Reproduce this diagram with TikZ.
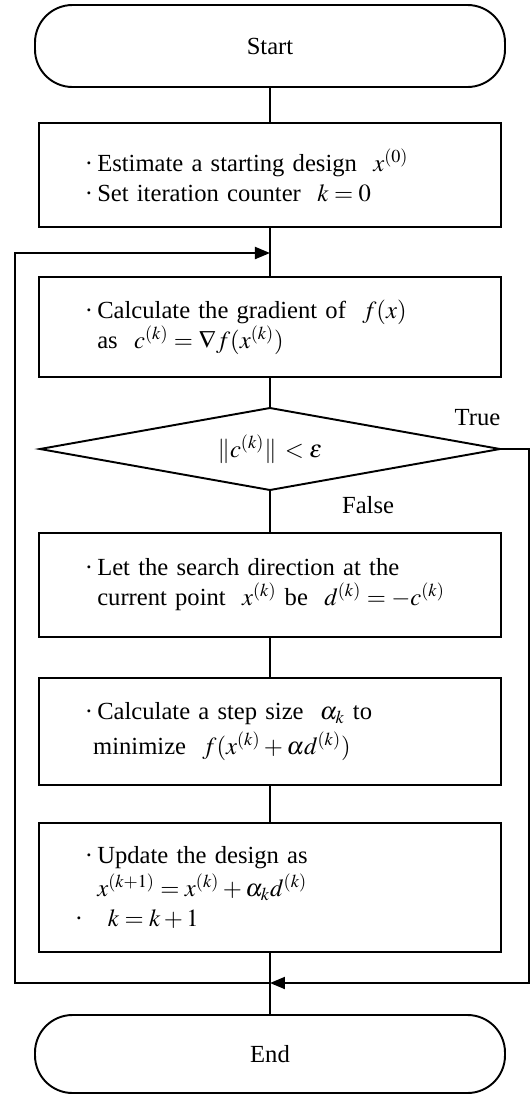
\documentclass[tikz,border=0pt]{standalone}
\usepackage{mathptmx}
\usepackage{fontspec}
\setmainfont{Liberation Serif}
\usepackage{tikz}
\usetikzlibrary{arrows.meta, positioning, shapes.geometric, calc}
\newcommand{\boxfont}{\fontsize{14}{17}\selectfont\spaceskip=0.45em plus 0.1em\relax}
\newcommand{\itemdot}{\hspace*{0.2cm}\textperiodcentered\,}
\newcommand{\itemgap}{\hspace*{0.2cm}\hphantom{\textperiodcentered\,}}

\begin{document}
\begin{tikzpicture}[
    node distance=0.8cm,
    every node/.style={font=\boxfont},
    term/.style={draw, line width=1.1pt, outer sep=0pt, rounded corners=0.75cm, minimum width=9.4cm, minimum height=#1},
    proc/.style={draw, line width=1.3pt, outer sep=0pt, minimum width=9.25cm, text width=7.8cm, align=left, minimum height=#1},
    cond/.style={draw, diamond, aspect=5.6, line width=1.1pt, outer sep=0pt, minimum width=9.2cm, minimum height=1.64cm, inner sep=0pt},
    lbl/.style={inner sep=1pt},
    link/.style={line width=1.1pt},
    arr/.style={-{Triangle[length=0.3cm, width=0.24cm]}, line width=1.1pt},
]
    \useasboundingbox (-5.4,0.92) rectangle (5.22,-20.98);

    % Flowchart from top to bottom
    \node[term=1.64cm] (start) at (0,0) {Start};
    \node[proc=2.08cm, below=0.72cm of start] (init) {\itemdot Estimate a starting design \ $x^{(0)}$\\
        \itemdot Set iteration counter \ $k=0$};
    \node[proc=2.0cm, below=1.0cm of init] (grad) {\itemdot Calculate the gradient of \ $f(x)$\\
        \itemgap as \ $c^{(k)}=\nabla f(x^{(k)})$};
    \node[cond, below=0.62cm of grad] (test) {$\|c^{(k)}\| \,<\varepsilon$};
    \node[proc=2.08cm, below=0.86cm of test] (dir) {\itemdot Let the search direction at the\\
        \itemgap current point \ $x^{(k)}$ be \ $d^{(k)}=-c^{(k)}$};
    \node[proc=2.14cm, below=0.82cm of dir] (step) {\itemdot Calculate a step size \ $\alpha_k$ to\\[3pt]
        \hspace*{0.2cm}\hphantom{\textperiodcentered}minimize \ $f(x^{(k)}+\alpha d^{(k)})$};
    \node[proc=2.58cm, below=0.76cm of step] (upd) {\itemdot Update the design as\\[2pt]
        \itemgap $x^{(k+1)}=x^{(k)}+\alpha_k d^{(k)}$\\
        \textperiodcentered\quad$k=k+1$};
    \node[term=1.56cm, below=1.26cm of upd] (fin) {End};

    % Branch labels
    \node[lbl, above=0.42cm of test.east, xshift=-0.45cm] (tlab) {True};
    \node[lbl, below right=0.08cm and 1.4cm of test.south] (flab) {False};

    % Loop points
    \coordinate[below=0.52cm of init.south] (merge);
    \coordinate[below=0.62cm of upd.south] (join);
    \coordinate (lft) at (-5.1,0);
    \coordinate (rgt) at (5.18,0);

    % Connectors
    \draw[link] (start) -- (init);
    \draw[link] (init) -- (grad);
    \draw[link] (grad) -- (test);
    \draw[link] (test) -- (dir);
    \draw[link] (dir) -- (step);
    \draw[link] (step) -- (upd);
    \draw[link] (upd) -- (fin);
    \draw[arr] (join) -- (join -| lft) -- (merge -| lft) -- (merge);
    \draw[arr] (test.east) -- (test.east -| rgt) -- (join -| rgt) -- (join);
\end{tikzpicture}
\end{document}
